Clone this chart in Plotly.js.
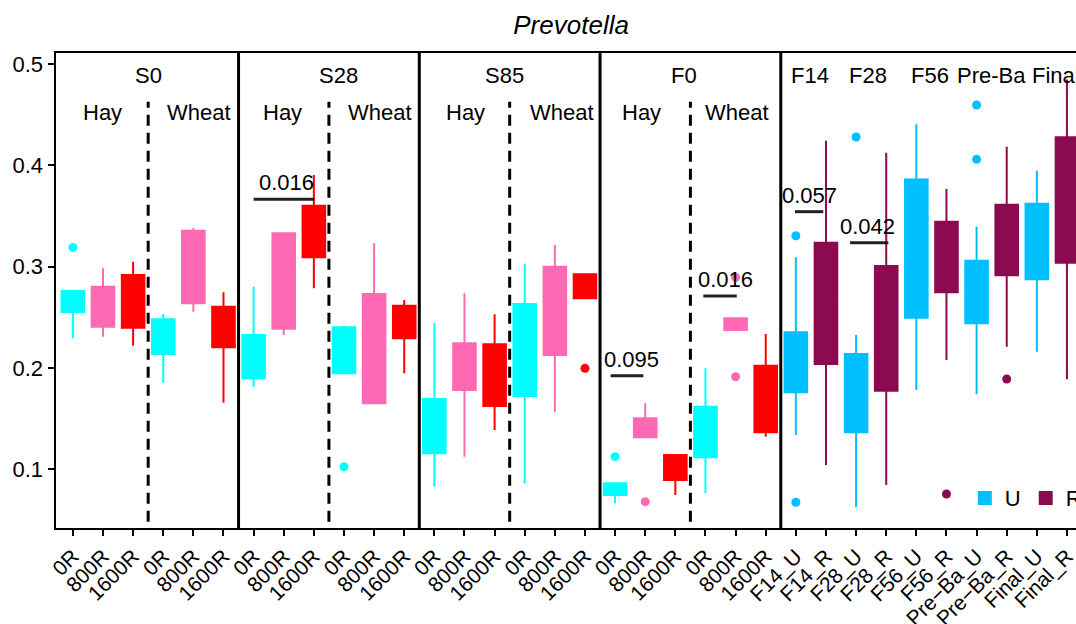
<!DOCTYPE html>
<html>
<head>
<meta charset="utf-8">
<script src="https://cdn.plot.ly/plotly-3.0.1.min.js"></script>
<style>html,body{margin:0;padding:0;background:#fff}#chart{width:1076px;height:624px}</style>
</head>
<body>
<div id="chart"></div>
<script>
// ---- categories / tick labels (34 positions on one numeric axis) ----
const tickLabels = [
  "0R","800R","1600R","0R","800R","1600R",
  "0R","800R","1600R","0R","800R","1600R",
  "0R","800R","1600R","0R","800R","1600R",
  "0R","800R","1600R","0R","800R","1600R",
  "F14_U","F14_R","F28_U","F28_R","F56_U","F56_R","Pre\u2212Ba_U","Pre\u2212Ba_R","Final_U","Final_R"
];

// ---- 0R (cyan) ----
const x0R = [0,3,6,9,12,15,18,21];
const q1_0R = [0.2552,0.2136,0.1896,0.1946,0.1155,0.1721,0.0743,0.1116];
const med_0R = [0.266,0.232,0.210,0.220,0.140,0.215,0.080,0.135];
const q3_0R = [0.2759,0.2479,0.2324,0.2400,0.1692,0.2630,0.0859,0.1616];
const lo_0R = [0.2291,0.1853,0.1813,0.1946,0.0825,0.0859,0.0661,0.0760];
const hi_0R = [0.2759,0.2532,0.2801,0.2416,0.2440,0.3023,0.0859,0.1995];
const outX_0R = [0,9,18];
const outY_0R = [0.319,0.1023,0.1122];

// ---- 800R (hot pink) ----
const x800R = [1,4,7,10,13,16,19,22];
const q1_800R = [0.2406,0.2637,0.2387,0.1649,0.1781,0.2127,0.1313,0.2374];
const med_800R = [0.262,0.300,0.290,0.210,0.200,0.260,0.140,0.243];
const q3_800R = [0.2801,0.3355,0.3329,0.2729,0.2242,0.2999,0.1501,0.2489];
const lo_800R = [0.2307,0.2555,0.2324,0.1649,0.1122,0.1566,0.1313,0.2374];
const hi_800R = [0.2983,0.3384,0.3329,0.3230,0.2736,0.3213,0.1649,0.2489];
const outX_800R = [19,22,22];
const outY_800R = [0.0677,0.2894,0.1912];

// ---- 1600R (red) ----
const x1600R = [2,5,8,11,14,17,20,23];
const q1_1600R = [0.2396,0.2202,0.3092,0.2291,0.1623,0.2687,0.0891,0.1362];
const med_1600R = [0.262,0.240,0.335,0.245,0.190,0.282,0.100,0.170];
const q3_1600R = [0.2917,0.2604,0.3602,0.2614,0.2232,0.2924,0.1138,0.2021];
const lo_1600R = [0.2218,0.1655,0.2785,0.1946,0.1385,0.2687,0.0743,0.1319];
const hi_1600R = [0.3049,0.2746,0.3905,0.2670,0.2529,0.2934,0.1138,0.2334];
const outX_1600R = [17];
const outY_1600R = [0.1995];

// ---- U (deep sky blue) ----
const xU = [24,26,28,30,32];
const q1_U = [0.1758,0.1363,0.2495,0.2440,0.2874];
const med_U = [0.205,0.175,0.315,0.275,0.325];
const q3_U = [0.2351,0.2136,0.3862,0.3058,0.3622];
const lo_U = [0.1336,0.0622,0.1780,0.1738,0.2159];
const hi_U = [0.3092,0.2324,0.4406,0.3395,0.3948];
const outX_U = [24,24,26,30,30];
const outY_U = [0.3305,0.0671,0.4281,0.4597,0.4060];

// ---- R (deeppink4) ----
const xR = [25,27,29,31,33];
const q1_R = [0.2037,0.1774,0.2746,0.2914,0.3039];
const med_R = [0.265,0.240,0.310,0.325,0.365];
const q3_R = [0.3236,0.3006,0.3444,0.3612,0.4278];
const lo_R = [0.1040,0.0842,0.2077,0.2209,0.1886];
const hi_R = [0.4244,0.4126,0.3767,0.4185,0.4850];
const outX_R = [29,31];
const outY_R = [0.0753,0.1889];

// ---- panel labels ----
const panelLabels = ["S0","S28","S85","F0","F14","F28","F56","Pre-Ba","Final"];
const panelLabelX = [2.51,8.82,14.32,20.3,24.46,26.39,28.44,30.51,32.62];
const dietLabels = ["Hay","Wheat","Hay","Wheat","Hay","Wheat","Hay","Wheat"];
const dietLabelX = [0.97,4.19,6.95,10.2,13.03,16.23,18.86,22.06];

// ---- significance annotations ----
const sigText = ["0.016","0.095","0.016","0.057","0.042"];
const sigX0 = [6.0,17.85,20.93,23.97,25.8];
const sigX1 = [8.02,18.94,22.04,24.91,27.07];
const sigY = [0.3665,0.1922,0.2709,0.3543,0.3236];
const sigTextX = [7.1,18.56,21.66,24.46,26.39];

const panelDividers = [5.5,11.5,17.5,23.5];
const dietDividers = [2.5,8.5,14.5,20.5];

const C0 = "#00FFFF", C800 = "#FF69B4", C1600 = "#FF0000", CU = "#00BFFF", CR = "#8B0A50";
const FONT = "Liberation Sans, Arial, Helvetica, sans-serif";

function boxTrace(name, xs, q1, med, q3, lo, hi, color, showlegend) {
  return {type:"box", orientation:"v", name:name, x:xs, q1:q1, median:med, q3:q3,
    lowerfence:lo, upperfence:hi, fillcolor:color, line:{color:color, width:2},
    width:0.75, whiskerwidth:0, boxpoints:false, showlegend:showlegend, hoverinfo:"skip"};
}
function outTrace(xs, ys, color) {
  return {type:"scatter", mode:"markers", x:xs, y:ys, marker:{color:color, size:9},
    showlegend:false, hoverinfo:"skip"};
}

const data = [
  boxTrace("0R", x0R, q1_0R, med_0R, q3_0R, lo_0R, hi_0R, C0, false),
  boxTrace("800R", x800R, q1_800R, med_800R, q3_800R, lo_800R, hi_800R, C800, false),
  boxTrace("1600R", x1600R, q1_1600R, med_1600R, q3_1600R, lo_1600R, hi_1600R, C1600, false),
  boxTrace("U", xU, q1_U, med_U, q3_U, lo_U, hi_U, CU, true),
  boxTrace("R", xR, q1_R, med_R, q3_R, lo_R, hi_R, CR, true),
  outTrace(outX_0R, outY_0R, C0),
  outTrace(outX_800R, outY_800R, C800),
  outTrace(outX_1600R, outY_1600R, C1600),
  outTrace(outX_U, outY_U, CU),
  outTrace(outX_R, outY_R, CR)
];

const shapes = [];
panelDividers.forEach(p => shapes.push({type:"line", xref:"x", yref:"paper", x0:p, x1:p, y0:0, y1:1,
  line:{color:"#000", width:3}}));
dietDividers.forEach(p => shapes.push({type:"line", xref:"x", yref:"y", x0:p, x1:p, y0:0.03, y1:0.463,
  line:{color:"#000", width:3, dash:"11px,7px"}}));
sigText.forEach((t,i) => shapes.push({type:"line", xref:"x", yref:"y", x0:sigX0[i], x1:sigX1[i],
  y0:sigY[i], y1:sigY[i], line:{color:"#222", width:3}}));

const annotations = [];
panelLabels.forEach((t,i) => annotations.push({text:t, x:panelLabelX[i], y:0.489, xref:"x", yref:"y",
  showarrow:false, xanchor:"center", yanchor:"middle", font:{size:22, color:"#000", family:FONT}}));
dietLabels.forEach((t,i) => annotations.push({text:t, x:dietLabelX[i], y:0.452, xref:"x", yref:"y",
  showarrow:false, xanchor:"center", yanchor:"middle", font:{size:22, color:"#000", family:FONT}}));
sigText.forEach((t,i) => annotations.push({text:t, x:sigTextX[i], y:sigY[i], xref:"x", yref:"y",
  showarrow:false, xanchor:"center", yanchor:"bottom", yshift:2, font:{size:22, color:"#000", family:FONT}}));

const layout = {
  width:1076, height:624,
  margin:{l:56, r:0, t:53, b:96, autoexpand:false},
  paper_bgcolor:"#fff", plot_bgcolor:"#fff",
  font:{family:FONT, color:"#000", size:21},
  title:{text:"Prevotella", font:{size:26, style:"italic", color:"#000", family:FONT},
    x:0.505, xref:"paper", xanchor:"center", y:0.96, yref:"container", yanchor:"middle"},
  boxmode:"overlay",
  showlegend:true,
  legend:{orientation:"h", x:0.891, xanchor:"left", y:0.063, yanchor:"middle",
    bgcolor:"rgba(0,0,0,0)", font:{size:22, color:"#000", family:FONT}},
  xaxis:{range:[-0.56,33.3], tickmode:"array", tickvals:tickLabels.map((_,i)=>i), ticktext:tickLabels,
    tickangle:-45, ticks:"outside", ticklen:6, tickwidth:2, tickcolor:"#000", ticklabeloverflow:"allow",
    showline:true, linewidth:2, linecolor:"#000", mirror:true, showgrid:false, zeroline:false,
    tickfont:{size:21, color:"#000", family:FONT}, fixedrange:true},
  yaxis:{range:[0.0417,0.5111], tickmode:"array", tickvals:[0.1,0.2,0.3,0.4,0.5],
    ticktext:["0.1","0.2","0.3","0.4","0.5"], ticks:"outside", ticklen:6, tickwidth:2, tickcolor:"#000",
    showline:true, linewidth:2.5, linecolor:"#000", showgrid:false, zeroline:false,
    tickfont:{size:22, color:"#000", family:FONT}, fixedrange:true},
  shapes:shapes,
  annotations:annotations
};

Plotly.newPlot("chart", data, layout, {displayModeBar:false, staticPlot:true});
</script>
</body>
</html>
